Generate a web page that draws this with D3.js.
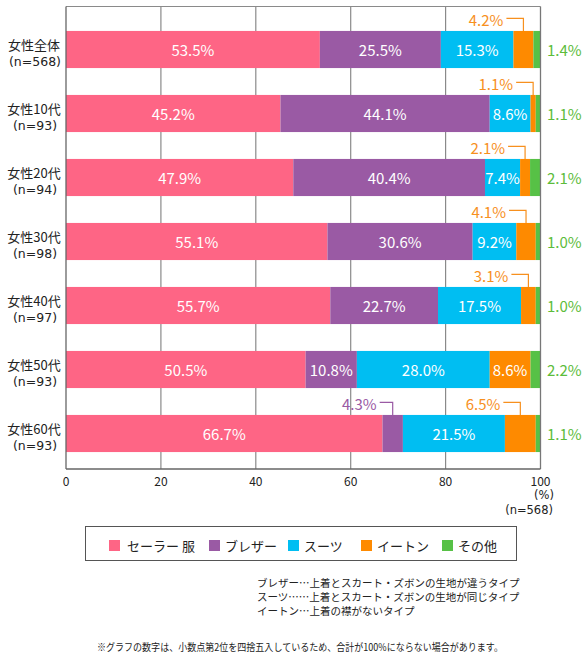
<!DOCTYPE html>
<html><head><meta charset="utf-8">
<script src="https://cdn.jsdelivr.net/npm/d3@7"></script>
<style>
html,body{margin:0;padding:0;background:#fff;}
svg{display:block;font-family:"Noto Sans CJK JP","Noto Sans",sans-serif;}
</style></head>
<body><svg id="c" width="585" height="655"></svg>
<script>
const categories = ["女性全体","女性10代","女性20代","女性30代","女性40代","女性50代","女性60代"];
const nLabels = ["(n=568)","(n=93)","(n=94)","(n=98)","(n=97)","(n=93)","(n=93)"];
const seriesNames = ["セーラー 服","ブレザー","スーツ","イートン","その他"];
const sailor = [53.5,45.2,47.9,55.1,55.7,50.5,66.7];
const blazer = [25.5,44.1,40.4,30.6,22.7,10.8,4.3];
const suit   = [15.3,8.6,7.4,9.2,17.5,28.0,21.5];
const eton   = [4.2,1.1,2.1,4.1,3.1,8.6,6.5];
const other  = [1.4,1.1,2.1,1.0,1.0,2.2,1.1];
const xTicks = [0,20,40,60,80,100];
// label placement: "in" = inside bar, "call" = callout above bar, "out" = right of bar
const labelMode = [
  ["in","in","in","call","out"],
  ["in","in","in","call","out"],
  ["in","in","in","call","out"],
  ["in","in","in","call","out"],
  ["in","in","in","call","out"],
  ["in","in","in","in","out"],
  ["in","call","in","call","out"]
];
const colors = ["#fe6585","#9a5aa4","#00bef2","#fe8a00","#57c146"];
const labelColors = ["#fe6585","#9a5aa4","#00bef2","#f7901e","#5cbc3b"];
const notes = ["ブレザー…上着とスカート・ズボンの生地が違うタイプ","スーツ……上着とスカート・ズボンの生地が同じタイプ","イートン…上着の襟がないタイプ"];
const footnote = "※グラフの数字は、小数点第2位を四捨五入しているため、合計が100%にならない場合があります。";

const series = [sailor,blazer,suit,eton,other];
const svg = d3.select("#c");
const plotL = 66, plotR = 540.5, plotT = 6.5, plotB = 469;
const x = d3.scaleLinear().domain([0,100]).range([plotL,plotR]).clamp(true);
const y = d3.scaleBand().domain(categories).range([17.5,465.5]).paddingInner(0.42).paddingOuter(0.21);

// grid
svg.append("g").selectAll("line").data(xTicks.slice(1,-1)).join("line")
  .attr("x1",d=>x(d)).attr("x2",d=>x(d)).attr("y1",plotT).attr("y2",plotB)
  .attr("stroke","#8a8a8a").attr("stroke-width",1.2);
svg.append("line").attr("x1",plotL).attr("x2",plotR).attr("y1",plotT).attr("y2",plotT)
  .attr("stroke","#8a8a8a").attr("stroke-width",1);

// bars
const stackData = categories.map((c,i)=>{
  let acc=0; return series.map((s,j)=>{const v=s[i]; const r={cat:c,i,j,v,x0:acc,x1:acc+v}; acc+=v; return r;});
});
const gBars = svg.append("g");
stackData.forEach(row=>{
  gBars.selectAll(null).data(row).join("rect")
    .attr("x",d=>x(d.x0)).attr("width",d=>Math.max(0,x(d.x1)-x(d.x0)))
    .attr("y",d=>y(d.cat)).attr("height",y.bandwidth())
    .attr("fill",d=>colors[d.j]);
});

// frame
svg.append("line").attr("x1",plotL).attr("x2",plotL).attr("y1",plotT).attr("y2",plotB).attr("stroke","#666").attr("stroke-width",1.3);
svg.append("line").attr("x1",plotR).attr("x2",plotR).attr("y1",plotT).attr("y2",plotB).attr("stroke","#777").attr("stroke-width",1.3);
svg.append("line").attr("x1",plotL).attr("x2",plotR).attr("y1",plotB).attr("y2",plotB).attr("stroke","#666").attr("stroke-width",1.3);

// labels
const fmt = v=>v.toFixed(1)+"%";
stackData.forEach(row=>{
  row.forEach(d=>{
    const mode = labelMode[d.i][d.j];
    const yc = y(d.cat)+y.bandwidth()/2;
    const xc = (x(d.x0)+x(d.x1))/2;
    if(mode==="in"){
      svg.append("text").attr("x",xc).attr("y",yc).attr("text-anchor","middle")
        .attr("dominant-baseline","central").attr("fill","#fff").attr("font-size",15).text(fmt(d.v));
    } else if(mode==="out"){
      svg.append("text").attr("x",547).attr("y",yc).attr("dominant-baseline","central")
        .attr("fill",labelColors[d.j]).attr("font-size",15).text(fmt(d.v));
    } else {
      const top = y(d.cat);
      const ly = top-12.5;
      const len = d.j===1?13:17;
      svg.append("path").attr("d",`M${xc-len},${ly}H${xc}V${top}`).attr("fill","none")
        .attr("stroke",labelColors[d.j]).attr("stroke-width",1.2);
      svg.append("text").attr("x",xc-len-3).attr("y",ly+1).attr("text-anchor","end")
        .attr("dominant-baseline","central").attr("fill",labelColors[d.j]).attr("font-size",15).text(fmt(d.v));
    }
  });
});

// category labels
categories.forEach((c,i)=>{
  const yc = y(c)+y.bandwidth()/2;
  svg.append("text").attr("x",34).attr("y",yc-5).attr("text-anchor","middle").attr("dominant-baseline","central")
    .attr("font-size",13).attr("fill","#222").text(c);
  svg.append("text").attr("x",35).attr("y",yc+11.5).attr("text-anchor","middle").attr("dominant-baseline","central")
    .attr("font-family","'DejaVu Sans',sans-serif").attr("font-size",12.5).attr("fill","#222").text(nLabels[i]);
});

// x axis labels
svg.append("g").selectAll("text").data(xTicks).join("text")
  .attr("x",d=>x(d)).attr("y",480).attr("text-anchor","middle").attr("dominant-baseline","central")
  .attr("font-size",12).attr("fill","#222").text(d=>d);
svg.append("text").attr("x",544).attr("y",495).attr("text-anchor","middle").attr("dominant-baseline","central")
  .attr("font-family","'DejaVu Sans',sans-serif").attr("font-size",11.5).attr("fill","#222").text("(%)");
svg.append("text").attr("x",553).attr("y",509.5).attr("text-anchor","end").attr("dominant-baseline","central")
  .attr("font-family","'DejaVu Sans',sans-serif").attr("font-size",11.5).attr("fill","#222").text("(n=568)");

// legend
svg.append("rect").attr("x",85.5).attr("y",526.5).attr("width",431).attr("height",34)
  .attr("fill","none").attr("stroke","#555").attr("stroke-width",1);
const legX = [109,209,288,361,442];
seriesNames.forEach((s,j)=>{
  svg.append("rect").attr("x",legX[j]).attr("y",540).attr("width",11).attr("height",11).attr("fill",colors[j]);
  svg.append("text").attr("x",legX[j]+(j===0?18:16)).attr("y",545.5).attr("dominant-baseline","central")
    .attr("font-size",13).attr("fill","#222").text(s);
});

// notes
notes.forEach((t,k)=>{
  svg.append("text").attr("x",257).attr("y",582+k*14).attr("dominant-baseline","central")
    .attr("font-size",10.5).attr("fill","#222").text(t);
});
svg.append("text").attr("x",97).attr("y",646).attr("dominant-baseline","central")
  .attr("font-size",10).attr("fill","#222").attr("textLength",406).attr("lengthAdjust","spacingAndGlyphs").text(footnote);
</script></body></html>
